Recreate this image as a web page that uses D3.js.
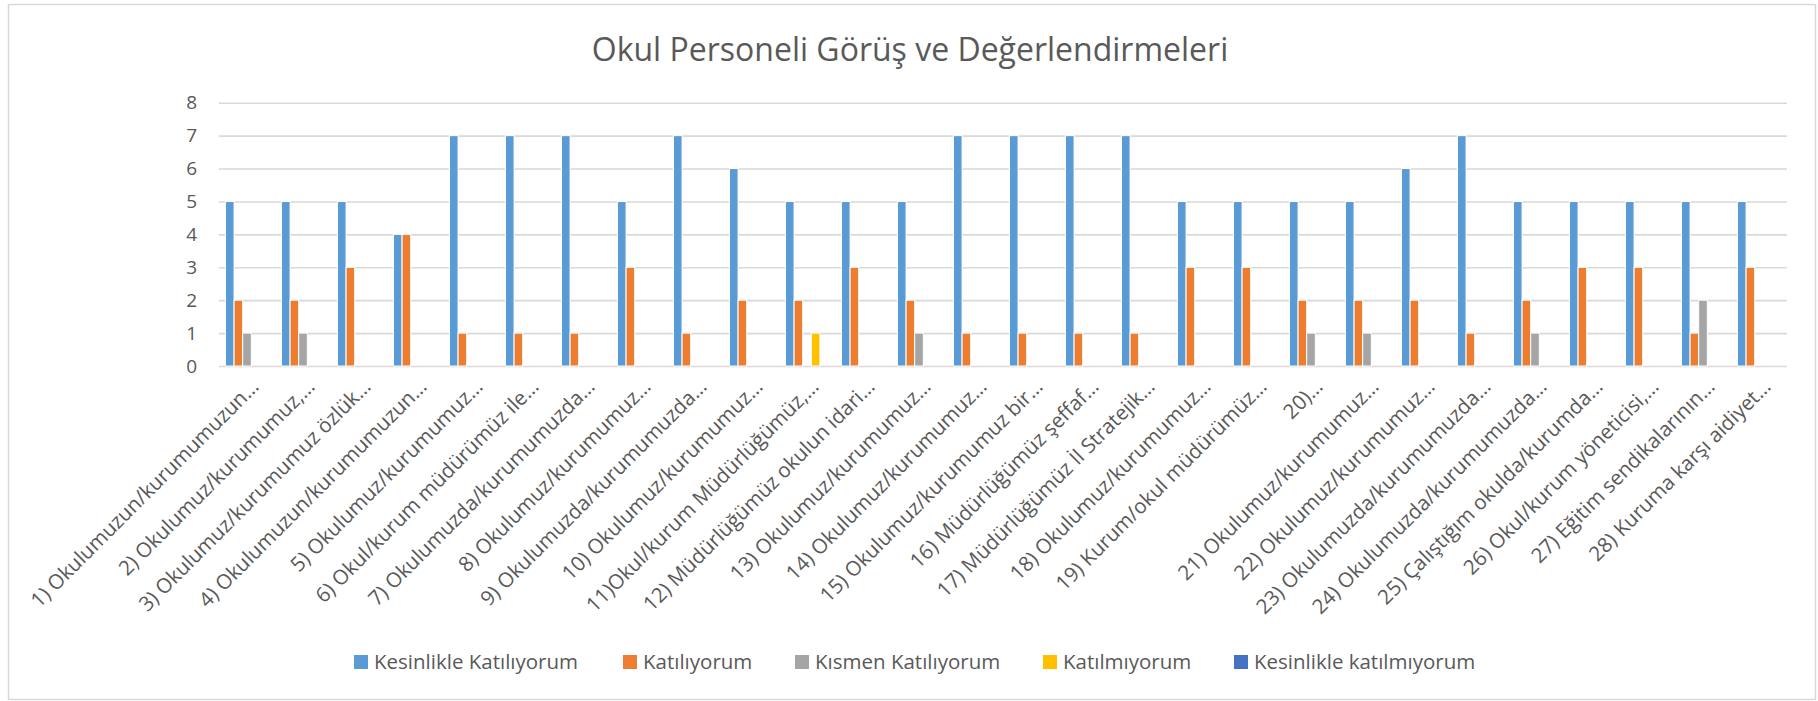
<!DOCTYPE html>
<html>
<head>
<meta charset="utf-8">
<script src="https://cdn.jsdelivr.net/npm/d3@7"></script>
<style>
  body { margin: 0; background: #fff; }
  text { font-family: "Open Sans", "Noto Sans", sans-serif; fill: #595959; }
</style>
</head>
<body>
<script>
// categories (x axis labels, as truncated in the chart)
var categories = [
    "1) Okulumuzun/kurumumuzun…",
    "2) Okulumuz/kurumumuz,…",
    "3) Okulumuz/kurumumuz özlük…",
    "4) Okulumuzun/kurumumuzun…",
    "5) Okulumuz/kurumumuz…",
    "6) Okul/kurum müdürümüz ile…",
    "7) Okulumuzda/kurumumuzda…",
    "8) Okulumuz/kurumumuz…",
    "9) Okulumuzda/kurumumuzda…",
    "10) Okulumuz/kurumumuz…",
    "11)Okul/kurum Müdürlüğümüz,…",
    "12) Müdürlüğümüz okulun idari…",
    "13) Okulumuz/kurumumuz…",
    "14) Okulumuz/kurumumuz…",
    "15) Okulumuz/kurumumuz bir…",
    "16) Müdürlüğümüz şeffaf…",
    "17) Müdürlüğümüz İl Stratejik…",
    "18) Okulumuz/kurumumuz…",
    "19) Kurum/okul müdürümüz…",
    "20)…",
    "21) Okulumuz/kurumumuz…",
    "22) Okulumuz/kurumumuz…",
    "23) Okulumuzda/kurumumuzda…",
    "24) Okulumuzda/kurumumuzda…",
    "25) Çalıştığım okulda/kurumda…",
    "26) Okul/kurum yöneticisi,…",
    "27) Eğitim sendikalarının…",
    "28) Kuruma karşı aidiyet…"
];

var seriesNames = [
    "Kesinlikle Katılıyorum",
    "Katılıyorum",
    "Kısmen Katılıyorum",
    "Katılmıyorum",
    "Kesinlikle katılmıyorum"
];
var seriesColors = ["#5B9BD5", "#ED7D31", "#A5A5A5", "#FFC000", "#4472C4"];

// series values, one per category
var kesinlikleKatiliyorum = [5, 5, 5, 4, 7, 7, 7, 5, 7, 6, 5, 5, 5, 7, 7, 7, 7, 5, 5, 5, 5, 6, 7, 5, 5, 5, 5, 5];
var katiliyorum           = [2, 2, 3, 4, 1, 1, 1, 3, 1, 2, 2, 3, 2, 1, 1, 1, 1, 3, 3, 2, 2, 2, 1, 2, 3, 3, 1, 3];
var kismenKatiliyorum     = [1, 1, 0, 0, 0, 0, 0, 0, 0, 0, 0, 0, 1, 0, 0, 0, 0, 0, 0, 1, 1, 0, 0, 1, 0, 0, 2, 0];
var katilmiyorum          = [0, 0, 0, 0, 0, 0, 0, 0, 0, 0, 1, 0, 0, 0, 0, 0, 0, 0, 0, 0, 0, 0, 0, 0, 0, 0, 0, 0];
var kesinlikleKatilmiyorum= [0, 0, 0, 0, 0, 0, 0, 0, 0, 0, 0, 0, 0, 0, 0, 0, 0, 0, 0, 0, 0, 0, 0, 0, 0, 0, 0, 0];

var yTicks = [0, 1, 2, 3, 4, 5, 6, 7, 8];

var seriesValues = [kesinlikleKatiliyorum, katiliyorum, kismenKatiliyorum, katilmiyorum, kesinlikleKatilmiyorum];

////////////////////////////////////////////////////////////////////////////////
var W = 1818, H = 701;
var plot = {left: 219, right: 1787, top: 102.7, bottom: 366};

var svg = d3.select("body").append("svg")
    .attr("width", W)
    .attr("height", H);

// chart area border
svg.append("rect")
    .attr("x", 8.5).attr("y", 4.5)
    .attr("width", 1807).attr("height", 695)
    .attr("fill", "#fff")
    .attr("stroke", "#d9d9d9")
    .attr("stroke-width", 1.5);

svg.append("text")
    .attr("x", 910)
    .attr("y", 61)
    .attr("text-anchor", "middle")
    .style("font-size", "32px")
    .text("Okul Personeli Görüş ve Değerlendirmeleri");

var x0 = d3.scaleBand()
    .domain(categories)
    .range([plot.left, plot.right]);

var groupW = x0.bandwidth() * 5 / 6.5; // gap width 150%
var x1 = d3.scaleBand()
    .domain(d3.range(seriesNames.length))
    .range([(x0.bandwidth() - groupW) / 2, (x0.bandwidth() + groupW) / 2]);

var y = d3.scaleLinear()
    .domain([0, 8])
    .range([plot.bottom, plot.top]);

// y axis + gridlines
var yAxis = svg.append("g")
    .attr("transform", "translate(" + plot.left + ",0)")
    .call(d3.axisLeft(y)
        .tickValues(yTicks)
        .tickSize(-(plot.right - plot.left))
        .tickPadding(22));
yAxis.select(".domain").remove();
yAxis.selectAll(".tick line")
    .attr("stroke", "#d9d9d9")
    .attr("stroke-width", 1.6);
yAxis.selectAll(".tick text")
    .style("font-size", "19px")
    .attr("fill", "#595959");

// bars
var rows = categories.map(function(c, i) {
    return {cat: c, vals: seriesValues.map(function(s) { return s[i]; })};
});

svg.selectAll(".group").data(rows)
  .enter().append("g")
    .attr("class", "group")
    .attr("transform", function(d) { return "translate(" + x0(d.cat) + ",0)"; })
  .selectAll("rect")
    .data(function(d) { return d.vals.map(function(v, k) { return {k: k, v: v}; }); })
  .enter().append("rect")
    .filter(function(d) { return d.v > 0; })
    .attr("x", function(d) { return x1(d.k); })
    .attr("width", x1.bandwidth())
    .attr("y", function(d) { return y(d.v); })
    .attr("height", function(d) { return y(0) - y(d.v); })
    .attr("fill", function(d) { return seriesColors[d.k]; })
    .attr("stroke", "#fff")
    .attr("stroke-width", 1);

// x labels, rotated
svg.append("g").selectAll("text").data(categories)
  .enter().append("text")
    .attr("transform", function(d) {
        return "translate(" + (x0(d) + x0.bandwidth() / 2 + 13) + ",388) rotate(-45)";
    })
    .attr("text-anchor", "end")
    .style("font-size", "20.5px")
    .text(function(d) { return d; });

// legend
var legendX = [354, 623, 795, 1043, 1234];
var legend = svg.append("g").selectAll("g").data(seriesNames)
  .enter().append("g")
    .attr("transform", function(d, i) { return "translate(" + legendX[i] + ",655)"; });
legend.append("rect")
    .attr("width", 14).attr("height", 14)
    .attr("fill", function(d, i) { return seriesColors[i]; });
legend.append("text")
    .attr("x", 20)
    .attr("y", 14)
    .style("font-size", "20.5px")
    .text(function(d) { return d; });
</script>
</body>
</html>
